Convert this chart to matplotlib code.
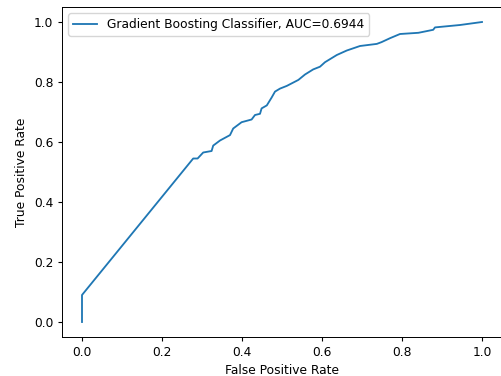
import matplotlib
matplotlib.use("Agg")
import matplotlib.pyplot as plt

# ROC curve points
fpr = [0.0, 0.0, 0.278, 0.289, 0.303, 0.324, 0.328, 0.345, 0.37, 0.378,
       0.399, 0.424, 0.4325, 0.445, 0.449, 0.462, 0.474, 0.4825, 0.495,
       0.512, 0.541, 0.5575, 0.578, 0.595, 0.6075, 0.637, 0.662, 0.695,
       0.737, 0.749, 0.77, 0.795, 0.841, 0.878, 0.8825, 0.945, 1.0]
tpr = [0.0, 0.09, 0.545, 0.545, 0.565, 0.57, 0.588, 0.605, 0.623, 0.645,
       0.666, 0.675, 0.69, 0.694, 0.712, 0.722, 0.748, 0.768, 0.778,
       0.787, 0.807, 0.825, 0.842, 0.851, 0.866, 0.89, 0.905, 0.92,
       0.927, 0.933, 0.946, 0.96, 0.964, 0.974, 0.982, 0.99, 1.0]
auc = 0.6944

# reference looks like a slightly shrunk default figure
scale = 0.88
plt.rcParams["font.size"] = 10 * scale
plt.rcParams["lines.linewidth"] = 1.5 * scale
plt.rcParams["axes.linewidth"] = 0.8 * scale
plt.rcParams["xtick.major.size"] = 3.5 * scale
plt.rcParams["ytick.major.size"] = 3.5 * scale
plt.rcParams["xtick.major.pad"] = 3.5 * scale
plt.rcParams["ytick.major.pad"] = 3.5 * scale

fig = plt.figure(figsize=(5.01, 3.76), dpi=100)
# axes is cut off at the right edge in the reference
ax = fig.add_axes([62 / 501, 39 / 376, 440 / 501, 330 / 376])
ax.plot(fpr, tpr, label="Gradient Boosting Classifier, AUC=%.4f" % auc)
ax.set_xlabel("False Positive Rate")
ax.set_ylabel("True Positive Rate")
ax.legend(loc="upper left")

fig.savefig("out.png", dpi=100)
